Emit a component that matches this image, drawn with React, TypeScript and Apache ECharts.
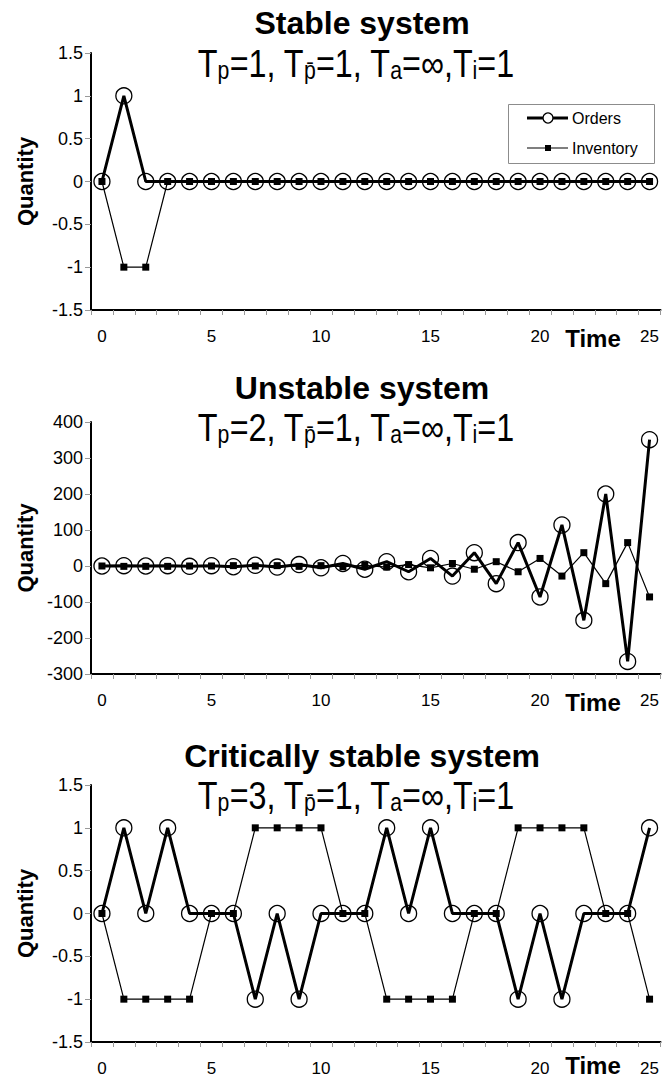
import React, { useEffect, useRef } from "react";
import * as echarts from "echarts";

// ---------- data ----------
const timeSteps = ["0","1","2","3","4","5","6","7","8","9","10","11","12","13","14","15","16","17","18","19","20","21","22","23","24","25"];

const stableOrders = [0,1,0,0,0,0,0,0,0,0,0,0,0,0,0,0,0,0,0,0,0,0,0,0,0,0];
const stableInventory = [0,-1,-1,0,0,0,0,0,0,0,0,0,0,0,0,0,0,0,0,0,0,0,0,0,0,0];

const unstableOrders = [0,1,0,1,-1,1,-2,2,-3,4,-5,7,-9,12,-16,21,-28,37,-49,65,-86,114,-151,200,-265,351];
const unstableInventory = [0,-1,-1,-1,0,0,1,0,1,-1,1,-2,2,-3,4,-5,7,-9,12,-16,21,-28,37,-49,65,-86];

const criticalOrders = [0,1,0,1,0,0,0,-1,0,-1,0,0,0,1,0,1,0,0,0,-1,0,-1,0,0,0,1];
const criticalInventory = [0,-1,-1,-1,-1,0,0,1,1,1,1,0,0,-1,-1,-1,-1,0,0,1,1,1,1,0,0,-1];

const titles = ["Stable system", "Unstable system", "Critically stable system"];
const tpValues = ["1", "2", "3"];
const seriesNames = ["Orders", "Inventory"];
const yRanges = [
  { min: -1.5, max: 1.5, interval: 0.5 },
  { min: -300, max: 400, interval: 100 },
  { min: -1.5, max: 1.5, interval: 0.5 },
];
const ordersData = [stableOrders, unstableOrders, criticalOrders];
const inventoryData = [stableInventory, unstableInventory, criticalInventory];

// ---------- layout ----------
const FONT = "Liberation Sans";
const grids = [
  { left: 91, top: 53, width: 570, height: 257 },
  { left: 91, top: 422, width: 570, height: 252 },
  { left: 91, top: 785, width: 570, height: 257 },
];
const titleY = [23, 388, 756];
const subY = [64, 428, 796];
const timeY = [338, 702, 1065];

export default function App() {
  const ref = useRef<HTMLDivElement>(null);

  useEffect(() => {
    document.body.style.margin = "0";
    if (!ref.current) return;
    const chart = echarts.init(ref.current, undefined, { renderer: "svg" });

    const xAxis = grids.map((_, i) => ({
      type: "category",
      gridIndex: i,
      data: timeSteps,
      boundaryGap: true,
      axisLine: { onZero: false, lineStyle: { color: "#000", width: 2 } },
      axisTick: { show: true, interval: 0, length: 5, lineStyle: { color: "#999", width: 1 } },
      axisLabel: { interval: 4, margin: 18, fontSize: 17, color: "#000", fontFamily: FONT },
      splitLine: { show: false },
    }));

    const yAxis = grids.map((_, i) => ({
      type: "value",
      gridIndex: i,
      min: yRanges[i].min,
      max: yRanges[i].max,
      interval: yRanges[i].interval,
      axisLine: { show: true, onZero: false, lineStyle: { color: "#000", width: 2 } },
      axisTick: { show: true, length: 6, lineStyle: { color: "#999", width: 1 } },
      axisLabel: { margin: 8, fontSize: 18, color: "#000", fontFamily: FONT },
      splitLine: { show: false },
    }));

    const series: any[] = [];
    grids.forEach((_, i) => {
      series.push({
        name: seriesNames[1],
        type: "line",
        xAxisIndex: i,
        yAxisIndex: i,
        data: inventoryData[i],
        symbol: "rect",
        symbolSize: 7,
        showAllSymbol: true,
        lineStyle: { color: "#000", width: 1.2 },
        itemStyle: { color: "#000" },
        z: 2,
        silent: true,
      });
      series.push({
        name: seriesNames[0],
        type: "line",
        xAxisIndex: i,
        yAxisIndex: i,
        data: ordersData[i],
        symbol: "circle",
        symbolSize: 16,
        showAllSymbol: true,
        lineStyle: { color: "#000", width: 3 },
        itemStyle: { color: "rgba(0,0,0,0)", borderColor: "#000", borderWidth: 1.3 },
        z: 3,
        silent: true,
      });
    });

    const graphic: any[] = [];
    grids.forEach((g, i) => {
      graphic.push({
        type: "text",
        x: 362,
        y: titleY[i],
        style: {
          text: titles[i],
          fontSize: 32,
          fontWeight: "bold",
          fontFamily: FONT,
          fill: "#000",
          textAlign: "center",
          textVerticalAlign: "middle",
        },
      });
      graphic.push({
        type: "text",
        x: 356,
        y: subY[i],
        scaleX: 0.85,
        style: {
          text:
            "{m|T}{s|p}{m|=" + tpValues[i] + ", T}{s|p\u0304}{m|=1, T}{s|a}{m|=\u221e,T}{s|i}{m|=1}",
          textAlign: "center",
          textVerticalAlign: "middle",
          rich: {
            m: { fontSize: 38, fontFamily: FONT, fill: "#000" },
            s: { fontSize: 25, fontFamily: FONT, fill: "#000", verticalAlign: "bottom" },
          },
        },
      });
      graphic.push({
        type: "text",
        x: 25,
        y: g.top + g.height / 2,
        rotation: Math.PI / 2,
        style: {
          text: "Quantity",
          fontSize: 22,
          fontWeight: "bold",
          fontFamily: FONT,
          fill: "#000",
          textAlign: "center",
          textVerticalAlign: "middle",
        },
      });
      graphic.push({
        type: "text",
        x: 593,
        y: timeY[i],
        style: {
          text: "Time",
          fontSize: 24,
          fontWeight: "bold",
          fontFamily: FONT,
          fill: "#000",
          textAlign: "center",
          textVerticalAlign: "middle",
        },
      });
    });

    // legend (top chart)
    graphic.push({
      type: "group",
      z: 100,
      children: [
        { type: "rect", shape: { x: 508.5, y: 104.5, width: 146, height: 59 }, style: { fill: "#fff", stroke: "#8c8c8c", lineWidth: 1 } },
        { type: "line", shape: { x1: 527, y1: 118, x2: 568, y2: 118 }, style: { stroke: "#000", lineWidth: 3 } },
        { type: "circle", shape: { cx: 548, cy: 118, r: 5 }, style: { fill: "#fff", stroke: "#000", lineWidth: 1.3 } },
        { type: "line", shape: { x1: 527, y1: 148, x2: 568, y2: 148 }, style: { stroke: "#000", lineWidth: 1.2 } },
        { type: "rect", shape: { x: 545, y: 145, width: 6, height: 6 }, style: { fill: "#000" } },
        { type: "text", x: 572, y: 118, style: { text: seriesNames[0], fontSize: 16, fontFamily: FONT, fill: "#000", textVerticalAlign: "middle" } },
        { type: "text", x: 572, y: 148, style: { text: seriesNames[1], fontSize: 16, fontFamily: FONT, fill: "#000", textVerticalAlign: "middle" } },
      ],
    });

    chart.setOption({
      animation: false,
      backgroundColor: "#fff",
      grid: grids,
      xAxis,
      yAxis,
      series,
      graphic,
    });

    return () => chart.dispose();
  }, []);

  return (
    <div
      ref={ref}
      style={{ position: "absolute", left: 0, top: 0, width: 662, height: 1079 }}
    />
  );
}
